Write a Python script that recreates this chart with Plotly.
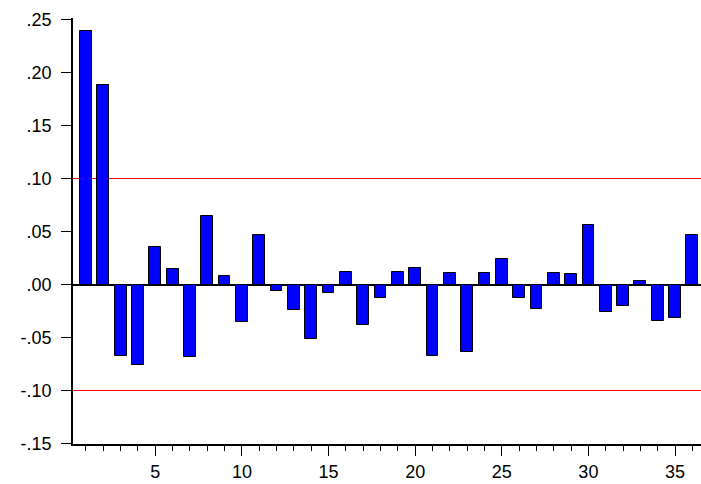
import plotly.graph_objects as go

# Autocorrelation coefficients by lag
lags = list(range(1, 37))
acf = [0.239, 0.188, -0.067, -0.076, 0.035, 0.015, -0.068, 0.065, 0.008, -0.035,
       0.047, -0.006, -0.024, -0.051, -0.008, 0.012, -0.038, -0.013, 0.012, 0.016,
       -0.067, 0.011, -0.064, 0.011, 0.024, -0.013, -0.023, 0.011, 0.010, 0.056,
       -0.026, -0.020, 0.003, -0.034, -0.032, 0.047]

# Confidence bands
band = 0.10

y_tickvals = [-0.15, -0.10, -0.05, 0.00, 0.05, 0.10, 0.15, 0.20, 0.25]
y_ticktext = ["-.15", "-.10", "-.05", ".00", ".05", ".10", ".15", ".20", ".25"]
x_tickvals = [5, 10, 15, 20, 25, 30, 35]

# vertical scale: 1060 px per unit, with the band lines centred on pixel rows
top_m, plot_h = 18, 426
px_per_unit = 1060.0
y_top = band + (178.5 - top_m) / px_per_unit
y_bottom = y_top - plot_h / px_per_unit

fig = go.Figure()
fig.add_trace(go.Bar(
    x=lags, y=acf, width=0.68,
    marker=dict(color="#0000FF", line=dict(color="black", width=1)),
))

for level in (band, -band):
    fig.add_shape(type="line", xref="paper", yref="y", x0=0, x1=1, y0=level, y1=level,
                  line=dict(color="#FF0000", width=1), layer="below")

fig.update_layout(
    width=701, height=484,
    margin=dict(l=73, r=0, t=top_m, b=484 - top_m - plot_h),
    plot_bgcolor="white", paper_bgcolor="white",
    showlegend=False,
    font=dict(family="Liberation Sans, Arial, sans-serif", size=18, color="black"),
    bargap=0,
)
fig.update_xaxes(
    range=[0.25, 36.5], showgrid=False, zeroline=False,
    showline=True, linecolor="black", linewidth=1.5,
    tickmode="array", tickvals=x_tickvals, ticks="outside", ticklen=10,
    tickcolor="black", tickwidth=1, ticklabelstandoff=1,
    minor=dict(tickmode="linear", tick0=0, dtick=1, ticks="outside", ticklen=5,
               tickcolor="black", tickwidth=1),
)
fig.update_yaxes(
    range=[y_bottom, y_top], showgrid=False,
    zeroline=True, zerolinecolor="black", zerolinewidth=1.5,
    showline=True, linecolor="black", linewidth=1.5,
    tickmode="array", tickvals=y_tickvals, ticktext=y_ticktext,
    ticks="outside", ticklen=10, tickcolor="black", tickwidth=1,
    ticklabelstandoff=6,
)

fig.write_html("out.html")
